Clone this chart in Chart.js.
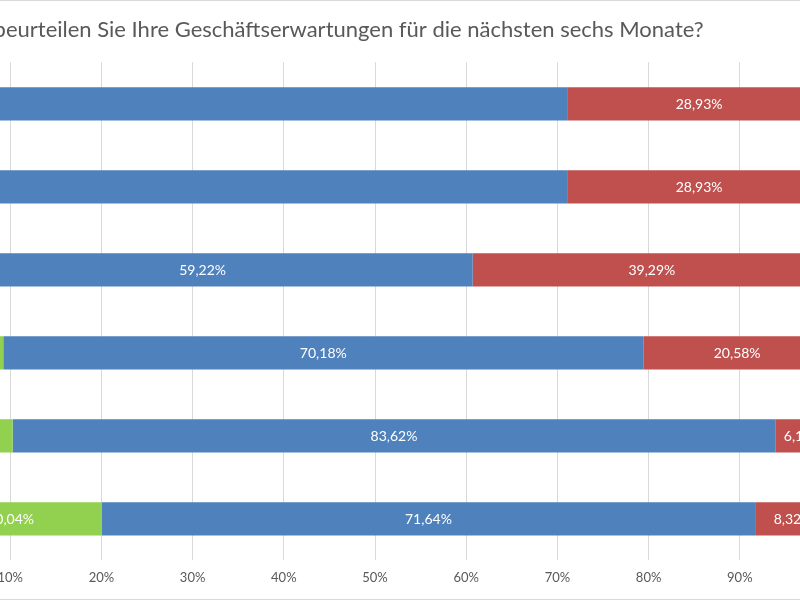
<!DOCTYPE html>
<html>
<head>
<meta charset="utf-8">
<script src="https://cdn.jsdelivr.net/npm/chart.js@4"></script>
<style>
  html, body { margin: 0; padding: 0; background: #fff; overflow: hidden; }
  #view { position: relative; width: 800px; height: 600px; overflow: hidden; }
  #frame { position: absolute; left: -180px; top: 0; width: 1039px; height: 598px; border: 1px solid #d9d9d9; }
</style>
</head>
<body>
<div id="view"><div id="frame"><canvas id="barCanvas" width="1039" height="598"></canvas></div></div>
<script>
// Kategorien (Achsenbeschriftung im Bild abgeschnitten)
const categories = ["Zeile 1", "Zeile 2", "Zeile 3", "Zeile 4", "Zeile 5", "Zeile 6"];

// Werte in Prozent, von links nach rechts gestapelt
const greenValues = [0, 0, 1.49, 9.24, 10.27, 20.04];
const blueValues = [71.07, 71.07, 59.22, 70.18, 83.62, 71.64];
const redValues = [28.93, 28.93, 39.29, 20.58, 6.11, 8.32];

// Beschriftungen, die im Bild nicht zu sehen sind
const hiddenBlueLabels = [0, 1];

const xTicks = [0, 10, 20, 30, 40, 50, 60, 70, 80, 90, 100];

const fmt = v => v.toFixed(2).replace('.', ',') + '%';

// eigene Wertebeschriftung in der Mitte der Balken
const barLabels = {
    id: 'barLabels',
    afterDatasetsDraw(chart) {
        const ctx = chart.ctx;
        ctx.save();
        ctx.font = '14px Lato';
        ctx.fillStyle = '#ffffff';
        ctx.textAlign = 'center';
        ctx.textBaseline = 'middle';
        chart.data.datasets.forEach((ds, di) => {
            chart.getDatasetMeta(di).data.forEach((bar, i) => {
                const v = ds.data[i];
                if (!v) return;
                if (di === 1 && hiddenBlueLabels.includes(i)) return;
                const cx = (bar.x + bar.base) / 2;
                ctx.fillText(fmt(v), cx, bar.y + 1);
            });
        });
        ctx.restore();
    }
};

const barCanvas = document.getElementById('barCanvas');

const barChart = new Chart(barCanvas, {
    type: "bar",
    data: {
        labels: categories,
        datasets: [
            { label: "besser", data: greenValues, backgroundColor: "#92d050" },
            { label: "gleichbleibend", data: blueValues, backgroundColor: "#4f81bd" },
            { label: "schlechter", data: redValues, backgroundColor: "#c0504d" }
        ]
    },
    options: {
        indexAxis: 'y',
        responsive: false,
        animation: false,
        barPercentage: 0.8,
        categoryPercentage: 0.5,
        layout: { padding: { left: 0, right: 29, bottom: 3 } },
        plugins: {
            legend: { display: false },
            tooltip: { enabled: false },
            title: {
                display: true,
                text: "Wie beurteilen Sie Ihre Geschäftserwartungen für die nächsten sechs Monate?",
                color: '#595959',
                font: { family: 'Lato', size: 22, weight: 'normal' },
                padding: { top: 16, bottom: 19 }
            }
        },
        scales: {
            x: {
                stacked: true,
                min: 0,
                max: 100,
                afterBuildTicks: axis => { axis.ticks = xTicks.map(v => ({ value: v })); },
                grid: { color: '#d9d9d9', drawTicks: false },
                border: { display: false },
                ticks: {
                    padding: 10,
                    color: '#595959',
                    font: { family: 'Lato', size: 13 },
                    callback: v => v + '%'
                }
            },
            y: {
                stacked: true,
                grid: { display: false },
                border: { display: false },
                ticks: { display: false },
                // Platz der (abgeschnittenen) Kategorienbeschriftung
                afterFit: axis => { axis.width = 98; }
            }
        }
    },
    plugins: [barLabels]
});
</script>
</body>
</html>
